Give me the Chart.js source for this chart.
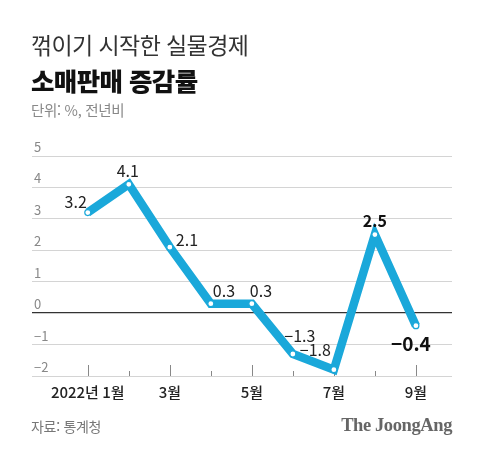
<!DOCTYPE html>
<html lang="ko">
<head>
<meta charset="utf-8">
<script src="https://cdn.jsdelivr.net/npm/chart.js@4/dist/chart.umd.min.js"></script>
<style>
  html, body { margin: 0; padding: 0; background: #fff; }
  #wrap { position: relative; width: 480px; height: 455px; overflow: hidden; font-family: "Noto Sans CJK KR", "Noto Sans", sans-serif; }
  #chart { position: absolute; left: 0; top: 0; }
  .t1 { position: absolute; left: 31px; top: 27px; font-size: 23px; font-weight: 400; color: #333; letter-spacing: -0.6px; }
  .t2 { position: absolute; left: 31px; top: 61px; font-size: 25.5px; font-weight: 900; color: #111; letter-spacing: -0.6px; }
  .unit { position: absolute; left: 31px; top: 99px; font-size: 14.5px; color: #888; letter-spacing: -0.3px; }
  .src { position: absolute; left: 31px; top: 416px; font-size: 14px; color: #777; letter-spacing: -0.3px; }
  .logo { position: absolute; right: 28px; top: 415px; font-family: "Liberation Serif", "DejaVu Serif", serif; font-weight: 700; font-size: 18.5px; color: #666; letter-spacing: -0.4px; }
</style>
</head>
<body>
<div id="wrap">
  <canvas id="chart" width="480" height="455"></canvas>
  <div class="t1">꺾이기 시작한 실물경제</div>
  <div class="t2">소매판매 증감률</div>
  <div class="unit">단위: %, 전년비</div>
  <div class="src">자료: 통계청</div>
  <div class="logo">The JoongAng</div>
</div>
<script>
// data
const months = [1, 2, 3, 4, 5, 6, 7, 8, 9];
const monthLabels = ['2022년 1월', '2월', '3월', '4월', '5월', '6월', '7월', '8월', '9월'];
const values = [3.2, 4.1, 2.1, 0.3, 0.3, -1.3, -1.8, 2.5, -0.4];
const yTicks = [-2, -1, 0, 1, 2, 3, 4, 5];

// label placement per point: dx, dy, align, bold, size
const labelStyle = [
  [-1, -11, 'right', false, 16],
  [-1, -13, 'center', false, 16],
  [6, -7, 'left', false, 16],
  [2, -13, 'left', false, 16],
  [-2, -13, 'left', false, 16],
  [7, -18, 'center', false, 16],
  [-3, -20, 'right', false, 16],
  [0, -14, 'center', true, 16],
  [-5, 18, 'center', true, 19]
];

const fmt = v => (v < 0 ? '\u2212' + Math.abs(v) : String(v));

const tickMarks = {
  id: 'tickMarks',
  beforeDatasetsDraw(chart) {
    const ctx = chart.ctx, x = chart.scales.x, bottom = chart.chartArea.bottom;
    ctx.save();
    ctx.strokeStyle = '#888';
    ctx.lineWidth = 1;
    months.forEach(m => {
      const px = Math.round(x.getPixelForValue(m)) + 0.5;
      const len = m % 2 === 1 ? 11 : 5;
      ctx.beginPath();
      ctx.moveTo(px, bottom);
      ctx.lineTo(px, bottom - len);
      ctx.stroke();
    });
    ctx.restore();
  }
};

const valueLabels = {
  id: 'valueLabels',
  afterDatasetsDraw(chart) {
    const ctx = chart.ctx;
    const meta = chart.getDatasetMeta(0);
    ctx.save();
    ctx.textBaseline = 'middle';
    meta.data.forEach((pt, i) => {
      const [dx, dy, align, bold, size] = labelStyle[i];
      ctx.font = (bold ? '700 ' : '400 ') + size + 'px "Noto Sans CJK KR", "Noto Sans", sans-serif';
      ctx.fillStyle = bold ? '#111' : '#222';
      ctx.textAlign = align;
      ctx.fillText(fmt(values[i]), pt.x + dx, pt.y + dy);
    });
    ctx.restore();
  }
};

new Chart(document.getElementById('chart'), {
  type: 'line',
  data: {
    datasets: [{
      data: months.map((m, i) => ({ x: m, y: values[i] })),
      borderColor: '#1aa8da',
      borderWidth: 8.5,
      borderJoinStyle: 'miter',
      pointRadius: 3,
      pointBorderWidth: 1.2,
      pointBackgroundColor: '#fff',
      pointBorderColor: '#1aa8da',
      tension: 0
    }]
  },
  options: {
    responsive: false,
    animation: false,
    events: [],
    layout: { padding: { left: 28, right: 28, top: 156, bottom: 47 } },
    plugins: { legend: { display: false }, tooltip: { enabled: false } },
    scales: {
      x: {
        type: 'linear',
        min: -0.36,
        max: 9.88,
        afterBuildTicks: s => { s.ticks = months.map(v => ({ value: v })); },
        grid: { display: false, drawTicks: false },
        border: { display: false },
        ticks: {
          autoSkip: false,
          maxRotation: 0,
          padding: 7,
          color: '#222',
          font: { family: '"Noto Sans CJK KR", "Noto Sans", sans-serif', size: 15, weight: '500' },
          callback: v => (v % 2 === 1 ? monthLabels[v - 1] : '')
        }
      },
      y: {
        min: -2,
        max: 5,
        afterBuildTicks: s => { s.ticks = yTicks.map(v => ({ value: v })); },
        border: { display: false },
        grid: {
          drawTicks: false,
          color: c => (c.tick && c.tick.value === 0 ? '#333' : '#d4d4d4'),
          lineWidth: c => (c.tick && c.tick.value === 0 ? 1.3 : 1)
        },
        ticks: {
          mirror: true,
          padding: 2,
          labelOffset: -9,
          color: '#888',
          font: { family: '"Noto Sans CJK KR", "Noto Sans", sans-serif', size: 13 },
          callback: v => fmt(v)
        }
      }
    }
  },
  plugins: [tickMarks, valueLabels]
});
</script>
</body>
</html>
